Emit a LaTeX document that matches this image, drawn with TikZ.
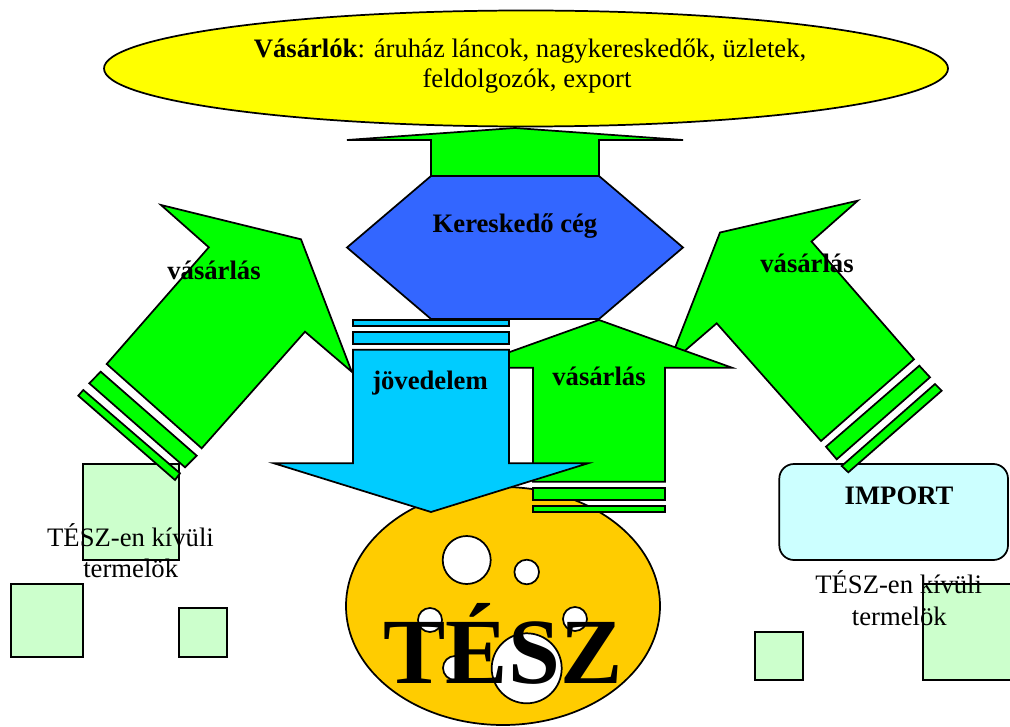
\documentclass[tikz,border=0pt]{standalone}
\usepackage{fontspec}
\setmainfont{Liberation Serif}
\definecolor{cyellow}{HTML}{FFFF00}
\definecolor{cgreen}{HTML}{00FF00}
\definecolor{cblue}{HTML}{3366FF}
\definecolor{ccyan}{HTML}{00CCFF}
\definecolor{corange}{HTML}{FFCC00}
\definecolor{clgreen}{HTML}{CCFFCC}
\definecolor{clcyan}{HTML}{CCFFFF}
\tikzset{
  outl/.style={draw=black, line width=1.3pt, line join=miter},
  gshape/.style={outl, fill=cgreen},
  cshape/.style={outl, fill=ccyan},
  sq/.style={outl, fill=clgreen},
  hole/.style={outl, fill=white},
  lbl/.style={inner sep=0pt, anchor=base, font=\fontsize{20}{23}\selectfont},
  blbl/.style={lbl, font=\fontsize{20}{23}\selectfont\bfseries},
}
\begin{document}
\begin{tikzpicture}[x=0.75pt, y=-0.75pt]
\useasboundingbox (0,0) rectangle (1010,727);
\clip (0,0) rectangle (1010,727);
% top ellipse
\draw[outl, fill=cyellow] (526,68.5) ellipse [x radius=422, y radius=58];
% background squares and import box
\draw[sq] (82.7,464) rectangle (179.3,560);
\draw[sq] (10.7,584) rectangle (83.3,656.7);
\draw[sq] (179,607.7) rectangle (227.3,656.7);
\draw[sq] (755,631.7) rectangle (803.3,680);
\draw[sq] (922.7,584) rectangle (1040,680);
\draw[outl, fill=clcyan, rounded corners=11pt] (779.3,464) rectangle (1008,560);
% TESZ ellipse
\draw[outl, fill=corange] (503,606) ellipse [x radius=157, y radius=119];
\draw[hole] (466.7,560) circle [radius=24];
\draw[hole] (526.7,572) circle [radius=12.3];
\draw[hole] (430,620) circle [radius=12];
\draw[hole] (575,619) circle [radius=12];
\draw[hole] (455,668) circle [radius=12];
\draw[hole] (526.7,668.3) circle [radius=35];
\node[inner sep=0pt, anchor=base, font=\fontsize{70}{80}\selectfont\bfseries] (tesz) at (503,683) {TÉSZ};
% hexagon
\draw[outl, fill=cblue] (431,176) -- (599,176) -- (683,247.5) -- (599,319) -- (431,319) -- (347,247.5) -- cycle;
% top up arrow
\draw[gshape] (431,176) -- (431,140) -- (347,140) -- (515,128) -- (683,140) -- (599,140) -- (599,176) -- cycle;
% left arrow
\draw[gshape] (161,205) -- (301,239.3) -- (351.7,371.7) -- (305,331.7) -- (201.7,448.3) -- (106.7,364) -- (208.8,247.3) -- cycle;
\draw[gshape] (100.7,371.7) -- (196.7,455.7) -- (185,467.3) -- (89.3,383.3) -- cycle;
\draw[gshape] (83.3,390) -- (180,473.3) -- (175,480) -- (78.3,395.7) -- cycle;
% right arrow
\draw[gshape] (857.7,200.7) -- (720,232.5) -- (668.3,365) -- (716.7,323.3) -- (821,441) -- (914,359.3) -- (811.5,241.5) -- cycle;
\draw[gshape] (826,446.7) -- (919.3,365.7) -- (930,377.3) -- (836.7,459.3) -- cycle;
\draw[gshape] (935,384) -- (941.7,390.7) -- (848.3,472.3) -- (841.7,466) -- cycle;
% middle up arrow
\draw[gshape] (599,320) -- (732,367.7) -- (665,367.7) -- (665,481.7) -- (533,481.7) -- (533,367.7) -- (466,367.7) -- cycle;
\draw[gshape] (533,487.7) rectangle (665,500);
\draw[gshape] (533,505.7) rectangle (665,511.7);
% cyan down arrow
\draw[cshape] (353,320) rectangle (509,325.7);
\draw[cshape] (353,332) rectangle (509,343.7);
\draw[cshape] (353,349.7) -- (509,349.7) -- (509,463.3) -- (588,463.3) -- (431,512) -- (274,463.3) -- (353,463.3) -- cycle;
% labels
\node[lbl] (v1) at (530,58) {\textbf{Vásárlók}: áruház láncok, nagykereskedők, üzletek,};
\node[lbl] (v2) at (527,88) {feldolgozók, export};
\node[blbl] (ker) at (515,233) {Kereskedő cég};
\node[blbl] (jov) at (430,389) {jövedelem};
\node[blbl] (vm) at (599,385) {vásárlás};
\node[blbl] (vl) at (214,280) {vásárlás};
\node[blbl] (vr) at (807,273) {vásárlás};
\node[blbl] (imp) at (899,504) {IMPORT};
\node[lbl] (tl1) at (130.5,546) {TÉSZ-en kívüli};
\node[lbl] (tl2) at (130.7,577) {termelök};
\node[lbl] (tr1) at (898.7,593) {TÉSZ-en kívüli};
\node[lbl] (tr2) at (899.3,625) {termelök};
\end{tikzpicture}
\end{document}
